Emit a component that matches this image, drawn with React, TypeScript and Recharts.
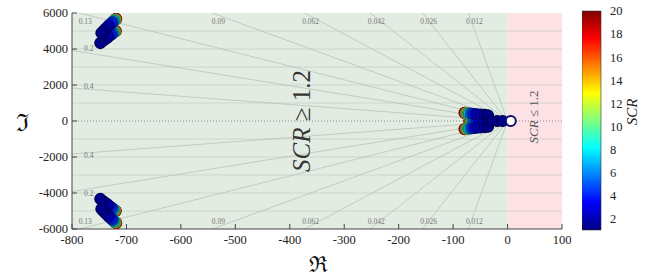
import React from 'react';
import {
  ScatterChart, Scatter, XAxis, YAxis, ReferenceArea, ReferenceLine, ReferenceDot,
  BarChart, Bar,
} from 'recharts';

const scrLevels = [1.2, 1.5, 2, 2.5, 3, 4, 5, 6, 8, 10, 12, 14, 16, 18, 20];

const outerLowRe = [-748, -744, -739, -735, -733, -729, -727, -726, -724, -723, -722, -721, -721, -720, -720];
const outerLowIm = [4330, 4430, 4545, 4630, 4700, 4780, 4830, 4865, 4905, 4935, 4955, 4970, 4980, 4990, 5000];
const outerHighRe = [-746, -742, -738, -734, -732, -728, -726, -725, -723, -722, -721, -720, -720, -719, -719];
const outerHighIm = [4890, 5010, 5140, 5240, 5320, 5410, 5470, 5510, 5560, 5590, 5615, 5635, 5650, 5660, 5670];
const innerPairRe = [-36, -42, -49, -54, -58, -62, -65, -68, -71, -73, -75, -76, -77, -78, -79];
const innerPairIm = [320, 335, 350, 360, 370, 385, 395, 405, 415, 422, 430, 436, 441, 446, 450];
const innerRealRe = [-30, -36, -43, -48, -52, -56, -59, -62, -64, -66, -67, -68, -69, -69.5, -70];

const fixedPolesRe = [-19, -9];
const openMarkRe = [6];

const xTicks = [-800, -700, -600, -500, -400, -300, -200, -100, 0, 100];
const yTicks = [-6000, -4000, -2000, 0, 2000, 4000, 6000];
const wnLevels = [-5000, -4000, -3000, -2000, -1000, 1000, 2000, 3000, 4000, 5000];
const dampingRatios = [0.012, 0.026, 0.042, 0.062, 0.09, 0.13, 0.2, 0.4];
const colorTicks = [2, 4, 6, 8, 10, 12, 14, 16, 18, 20];
const colorRange = [1, 20];

const X_DOMAIN = [-800, 100];
const Y_DOMAIN = [-6000, 6000];

const clamp = (v: number) => Math.max(0, Math.min(1, v));
const jet = (t: number, k = 1) => {
  const r = clamp(1.5 - Math.abs(4 * t - 3)) * k;
  const g = clamp(1.5 - Math.abs(4 * t - 2)) * k;
  const b = clamp(1.5 - Math.abs(4 * t - 1)) * k;
  return `rgb(${Math.round(r * 255)},${Math.round(g * 255)},${Math.round(b * 255)})`;
};
const scrT = (v: number) => (v - colorRange[0]) / (colorRange[1] - colorRange[0]);

// build pole rows, high SCR first so the blue ones end up on top
const poles: { re: number; im: number; scr: number }[] = [];
for (let i = scrLevels.length - 1; i >= 0; i--) {
  const scr = scrLevels[i];
  poles.push({ re: outerLowRe[i], im: outerLowIm[i], scr });
  poles.push({ re: outerHighRe[i], im: outerHighIm[i], scr });
  poles.push({ re: outerLowRe[i], im: -outerLowIm[i], scr });
  poles.push({ re: outerHighRe[i], im: -outerHighIm[i], scr });
  poles.push({ re: innerPairRe[i], im: innerPairIm[i], scr });
  poles.push({ re: innerPairRe[i], im: -innerPairIm[i], scr });
  poles.push({ re: innerRealRe[i], im: 0, scr });
}
fixedPolesRe.forEach((re) => poles.push({ re, im: 0, scr: scrLevels[0] }));
const openMarks = openMarkRe.map((re) => ({ re, im: 0 }));

const PoleDot = (props: any) => {
  const { cx, cy, payload } = props;
  const t = scrT(payload.scr);
  return <circle cx={cx} cy={cy} r={5.5} fill={jet(t)} stroke={jet(t, 0.55)} strokeWidth={1.2} />;
};
const OpenDot = (props: any) => (
  <circle cx={props.cx} cy={props.cy} r={5} fill="#fff" stroke="#10106e" strokeWidth={2} />
);

const dampingGeometry = dampingRatios.map((z) => {
  const s = Math.sqrt(1 - z * z);
  const tLeft = -X_DOMAIN[0] / z;
  const tTop = Y_DOMAIN[1] / s;
  const t = Math.min(tLeft, tTop);
  return { z, x: -z * t, y: s * t, top: tTop <= tLeft };
});

const SERIF = "'Liberation Serif', 'Times New Roman', serif";

const BottomTick = (p: any) => (
  <text x={p.x} y={p.y} dy="0.71em" textAnchor="middle" fontFamily={SERIF} fontSize={12.5} fill="#222">
    {p.payload.value}
  </text>
);
const LeftTick = (p: any) => (
  <text x={p.x} y={p.y} dy="0.355em" textAnchor="end" fontFamily={SERIF} fontSize={12.5} fill="#222">
    {p.payload.value}
  </text>
);
const RightTick = (p: any) => (
  <text x={p.x} y={p.y} dy="0.355em" textAnchor="start" fontFamily={SERIF} fontSize={12.5} fill="#222">
    {p.payload.value}
  </text>
);

const dampLabel = (text: string, dx: number, dy: number, anchor: string) => (p: any) => {
  const vb = p.viewBox || {};
  return (
    <text x={vb.x + dx} y={vb.y + dy} fontSize={7.5} fill="#777" fontFamily={SERIF}
      textAnchor={anchor} dominantBaseline="central">{text}</text>
  );
};

export default function App() {
  return (
    <div style={{ position: 'absolute', left: 0, top: 0, width: 656, height: 277, background: '#fff', fontFamily: SERIF }}>
      <div style={{ position: 'absolute', left: 0, top: 0 }}>
        <ScatterChart width={580} height={277} margin={{ top: 13, right: 18, bottom: 18, left: 0 }}>
          <XAxis type="number" dataKey="re" domain={X_DOMAIN} ticks={xTicks} allowDataOverflow
            height={30} tickSize={-5} tickMargin={11} tick={<BottomTick />} stroke="#444" interval={0} />
          <XAxis xAxisId="top" orientation="top" type="number" domain={X_DOMAIN} ticks={xTicks}
            allowDataOverflow height={0} tickSize={-5} tickFormatter={() => ''} stroke="#444" interval={0} />
          <YAxis type="number" dataKey="im" domain={Y_DOMAIN} ticks={yTicks} allowDataOverflow
            width={72} tickSize={-5} tickMargin={9} tick={<LeftTick />} stroke="#444" interval={0} />
          <YAxis yAxisId="right" orientation="right" type="number" domain={Y_DOMAIN} ticks={yTicks}
            allowDataOverflow width={0} tickSize={-5} tickFormatter={() => ''} stroke="#444" interval={0} />

          <ReferenceArea x1={X_DOMAIN[0]} x2={0} y1={Y_DOMAIN[0]} y2={Y_DOMAIN[1]} fill="#e3ece3" fillOpacity={1} stroke="none" />
          <ReferenceArea x1={0} x2={X_DOMAIN[1]} y1={Y_DOMAIN[0]} y2={Y_DOMAIN[1]} fill="#fde2e5" fillOpacity={1} stroke="none" />

          {wnLevels.map((y) => (
            <ReferenceLine key={`wn${y}`} y={y} segment={[{ x: X_DOMAIN[0], y }, { x: 0, y }]}
              stroke="#c8d1c8" strokeWidth={0.8} />
          ))}
          <ReferenceLine y={0} segment={[{ x: X_DOMAIN[0], y: 0 }, { x: 0, y: 0 }]}
            stroke="#777" strokeWidth={0.8} strokeDasharray="1 2" />

          {dampingGeometry.map((d) => (
            <ReferenceLine key={`zu${d.z}`} segment={[{ x: 0, y: 0 }, { x: d.x, y: d.y }]}
              stroke="#b5bdb5" strokeWidth={0.7} ifOverflow="visible" />
          ))}
          {dampingGeometry.map((d) => (
            <ReferenceLine key={`zl${d.z}`} segment={[{ x: 0, y: 0 }, { x: d.x, y: -d.y }]}
              stroke="#b5bdb5" strokeWidth={0.7} ifOverflow="visible" />
          ))}
          {dampingGeometry.map((d) => (
            <ReferenceDot key={`lu${d.z}`} x={d.x} y={d.y} r={0} ifOverflow="visible"
              label={d.top ? dampLabel(String(d.z), 6, 8, 'middle') : dampLabel(String(d.z), 12, -2, 'start')} />
          ))}
          {dampingGeometry.map((d) => (
            <ReferenceDot key={`ll${d.z}`} x={d.x} y={-d.y} r={0} ifOverflow="visible"
              label={d.top ? dampLabel(String(d.z), 6, -8, 'middle') : dampLabel(String(d.z), 12, 2, 'start')} />
          ))}

          <Scatter data={poles} shape={PoleDot} isAnimationActive={false} />
          <Scatter data={openMarks} shape={OpenDot} isAnimationActive={false} />
        </ScatterChart>
      </div>

      <div style={{ position: 'absolute', left: 582, top: 0 }}>
        <BarChart width={60} height={277} data={[{ name: 'scr', range: colorRange }]}
          margin={{ top: 11, right: 0, bottom: 47, left: 0 }} barCategoryGap={0}>
          <defs>
            <linearGradient id="jetbar" x1="0" y1="1" x2="0" y2="0">
              {[0, 0.125, 0.25, 0.375, 0.5, 0.625, 0.75, 0.875, 1].map((o) => (
                <stop key={o} offset={o} stopColor={jet(o)} />
              ))}
            </linearGradient>
          </defs>
          <XAxis dataKey="name" hide />
          <YAxis orientation="right" type="number" domain={colorRange} ticks={colorTicks} width={41}
            tickLine={false} axisLine={false} tickMargin={3} tick={<RightTick />} interval={0} />
          <Bar dataKey="range" fill="url(#jetbar)" stroke="#333" strokeWidth={0.6} isAnimationActive={false} />
        </BarChart>
      </div>

      <div style={{ position: 'absolute', left: 632, top: 112, transform: 'translate(-50%,-50%) rotate(-90deg)',
        fontStyle: 'italic', fontSize: 15, color: '#222', whiteSpace: 'nowrap' }}>SCR</div>

      <div style={{ position: 'absolute', left: 302, top: 121, transform: 'translate(-50%,-50%) rotate(-90deg)',
        fontSize: 25, color: '#333', whiteSpace: 'nowrap' }}>
        <i>SCR</i> ≥ 1.2
      </div>
      <div style={{ position: 'absolute', left: 534, top: 117, transform: 'translate(-50%,-50%) rotate(-90deg)',
        fontSize: 13, color: '#555', whiteSpace: 'nowrap' }}>
        <i>SCR</i> ≤ 1.2
      </div>

      <div style={{ position: 'absolute', left: 22, top: 121, transform: 'translate(-50%,-50%)',
        fontFamily: "'DejaVu Serif', serif", fontSize: 24, color: '#111' }}>ℑ</div>
      <div style={{ position: 'absolute', left: 318, top: 263, transform: 'translate(-50%,-50%)',
        fontFamily: "'DejaVu Serif', serif", fontSize: 22, color: '#111' }}>ℜ</div>
    </div>
  );
}
